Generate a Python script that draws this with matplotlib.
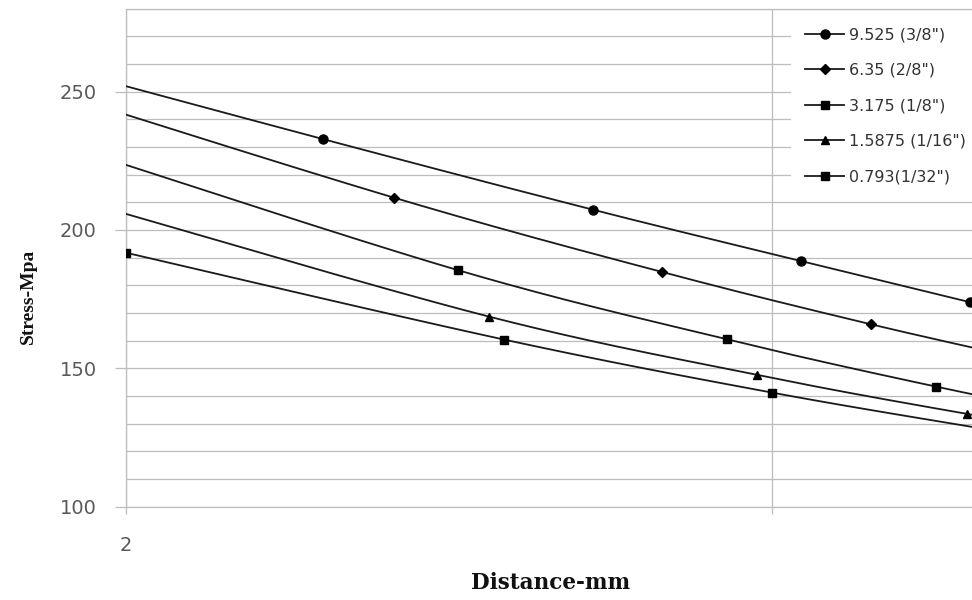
import numpy as np
import matplotlib
matplotlib.use("Agg")
import matplotlib.pyplot as plt
from matplotlib.lines import Line2D
from matplotlib.ticker import FixedLocator, FixedFormatter, NullFormatter

# Plate thickness series (mm / inch) and their stress readings
series_labels = ['9.525 (3/8")', '6.35 (2/8")', '3.175 (1/8")', '1.5875 (1/16")', '0.793(1/32")']

dist_9525 = [1.648, 2.470, 3.302, 4.123, 4.944, 5.768]
stress_9525 = [269.6, 232.9, 207.3, 188.8, 173.9, 161.4]

dist_635 = [1.778, 2.666, 3.555, 4.447, 5.334]
stress_635 = [254.2, 211.7, 184.8, 165.9, 152.0]

dist_3175 = [1.906, 2.855, 3.809, 4.766, 5.72]
stress_3175 = [228.8, 185.5, 160.5, 143.4, 131.0]

dist_15875 = [1.968, 2.952, 3.936, 4.930, 5.904]
stress_15875 = [207.4, 168.7, 147.6, 133.5, 123.6]

dist_0793 = [2.0, 3.0, 4.0, 5.0]
stress_0793 = [191.8, 160.4, 141.2, 128.3]

x_tick_values = [2, 4]
x_tick_labels = ["2", ""]
y_major_ticks = [100, 150, 200, 250]
y_minor_ticks = list(range(100, 281, 10))

all_x = [dist_9525, dist_635, dist_3175, dist_15875, dist_0793]
all_y = [stress_9525, stress_635, stress_3175, stress_15875, stress_0793]
marker_styles = ["o", "D", "s", "^", "s"]
marker_sizes = [6.5, 4.6, 5.4, 6.0, 6.0]


def smooth_curve(xs, ys, n=40):
    """Bezier smoothing (Catmull-Rom style) in log2(x)-y space."""
    u = np.log2(np.asarray(xs, float))
    v = np.asarray(ys, float)
    P = np.column_stack([u, v])
    m = len(P)
    out = []
    t = np.linspace(0, 1, n)
    for i in range(m - 1):
        p0 = P[max(i - 1, 0)]
        p1 = P[i]
        p2 = P[i + 1]
        p3 = P[min(i + 2, m - 1)]
        c1 = p1 + (p2 - p0) / 6.0
        c2 = p2 - (p3 - p1) / 6.0
        seg = ((1 - t) ** 3)[:, None] * p1 + (3 * (1 - t) ** 2 * t)[:, None] * c1 \
            + (3 * (1 - t) * t ** 2)[:, None] * c2 + (t ** 3)[:, None] * p2
        out.append(seg if i == 0 else seg[1:])
    S = np.vstack(out)
    return 2.0 ** S[:, 0], S[:, 1]


fig = plt.figure(figsize=(9.72, 6.0), dpi=100)
ax = fig.add_axes([125.7 / 972, 1 - 506.6 / 600, 1 - 125.7 / 972, (506.6 - 8.7) / 600])

line_color = "#1a1a1a"
grid_color = "#bdbdbd"

for xs, ys, mk, ms in zip(all_x, all_y, marker_styles, marker_sizes):
    sx, sy = smooth_curve(xs, ys)
    ax.plot(sx, sy, color=line_color, lw=1.3, zorder=3)
    ax.plot(xs, ys, linestyle="none", marker=mk, markersize=ms,
            color="black", zorder=4)

ax.set_xscale("log", base=2)
ax.set_xlim(2, 2 * 2 ** ((972 - 125.7) / 646.6))
ax.set_ylim(100, 280)

ax.xaxis.set_major_locator(FixedLocator(x_tick_values))
ax.xaxis.set_major_formatter(FixedFormatter(x_tick_labels))
ax.xaxis.set_minor_locator(FixedLocator([]))
ax.xaxis.set_minor_formatter(NullFormatter())

ax.yaxis.set_major_locator(FixedLocator(y_major_ticks))
ax.yaxis.set_minor_locator(FixedLocator(y_minor_ticks))

ax.grid(True, which="both", axis="y", color=grid_color, lw=0.9, zorder=1)
ax.grid(True, which="major", axis="x", color=grid_color, lw=0.9, zorder=1)
ax.set_axisbelow(True)

for side in ["left", "bottom", "top"]:
    ax.spines[side].set_color(grid_color)
    ax.spines[side].set_linewidth(0.9)
ax.spines["right"].set_visible(False)

ax.tick_params(axis="y", which="major", length=8, width=0.9, color=grid_color,
               labelsize=14, labelcolor="#5a5a5a", pad=13)
ax.tick_params(axis="y", which="minor", length=0)
ax.tick_params(axis="x", which="major", length=5, width=0.9, color=grid_color,
               labelsize=14, labelcolor="#5a5a5a", pad=16)
for lab in ax.get_xticklabels() + ax.get_yticklabels():
    lab.set_family("DejaVu Sans")

ax.set_xlabel("Distance-mm", fontsize=15.5, fontweight="bold",
              family="DejaVu Serif", color="#111111")
ax.xaxis.set_label_coords(0.5025, (506.6 - 583) / 497.9)
ax.xaxis.label.set_va("center")

ax.set_ylabel("Stress-Mpa", fontsize=14, fontweight="bold",
              family="Liberation Serif", color="#111111")
ax.yaxis.set_label_coords((28 - 125.7) / 846.3, (506.6 - 296) / 497.9)
ax.yaxis.label.set_va("center")
ax.yaxis.label.set_ha("center")

handles = [Line2D([0], [0], color=line_color, lw=1.3, marker=mk,
                  markersize=ms, markerfacecolor="black", markeredgecolor="black")
           for mk, ms in zip(marker_styles, marker_sizes)]
x0 = 791 / 972
leg = ax.legend(handles, series_labels, loc="upper left",
                bbox_to_anchor=(x0, 1 - 13.0 / 600, 1.02 - x0, 0),
                bbox_transform=fig.transFigure, mode="expand",
                prop={"family": "DejaVu Sans", "size": 11.5},
                frameon=True, fancybox=False, borderaxespad=0,
                borderpad=0.9, handlelength=2.4, handletextpad=0.31,
                labelspacing=1.28)
leg.get_frame().set_facecolor("white")
leg.get_frame().set_edgecolor("none")
leg.get_frame().set_alpha(1.0)
for t in leg.get_texts():
    t.set_color("#333333")

fig.savefig("out.png", dpi=100)
